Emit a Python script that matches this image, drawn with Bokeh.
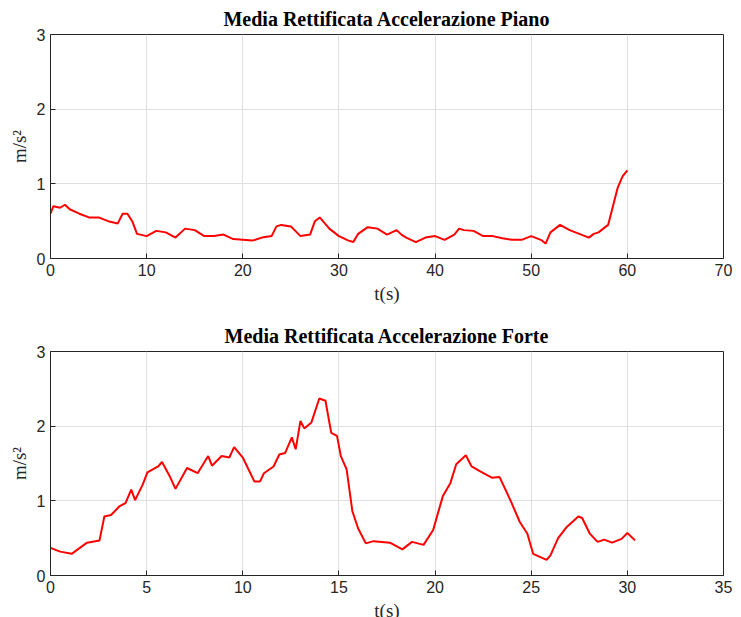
from bokeh.plotting import figure
from bokeh.layouts import column
from bokeh.models import Range1d, FixedTicker
from bokeh.embed import file_html
from bokeh.resources import INLINE

# Media rettificata - piano (0..60 s)
t_piano = [0, 0.3, 1, 1.5, 2, 3, 4, 5, 6, 7, 7.5, 8, 8.5, 9, 10, 11, 12, 13, 14, 15,
           16, 17, 18, 19, 20, 21, 22, 23, 23.5, 24, 25, 26, 27, 27.5, 28, 29, 30, 31,
           31.5, 32, 33, 34, 35, 36, 36.5, 37, 38, 39, 40, 41, 42, 42.5, 43, 44, 45, 46,
           47, 48, 49, 50, 51, 51.5, 52, 53, 54, 55, 56, 56.5, 57, 58, 58.5, 59, 59.5, 60]
a_piano = [0.6, 0.7, 0.68, 0.72, 0.66, 0.6, 0.55, 0.55, 0.5, 0.47, 0.6, 0.6, 0.5, 0.33,
           0.3, 0.37, 0.35, 0.28, 0.4, 0.38, 0.3, 0.3, 0.32, 0.26, 0.25, 0.24, 0.28, 0.3,
           0.43, 0.45, 0.43, 0.3, 0.32, 0.5, 0.55, 0.4, 0.3, 0.24, 0.22, 0.33, 0.42, 0.4,
           0.32, 0.38, 0.32, 0.28, 0.22, 0.28, 0.3, 0.25, 0.32, 0.4, 0.38, 0.37, 0.3, 0.3,
           0.27, 0.25, 0.25, 0.3, 0.25, 0.2, 0.35, 0.45, 0.38, 0.33, 0.28, 0.33, 0.35,
           0.45, 0.7, 0.95, 1.1, 1.18]

# Media rettificata - forte (0..30.4 s)
t_forte = [0, 0.5, 1.1, 1.9, 2.55, 2.8, 3.15, 3.6, 3.9, 4.2, 4.4, 4.8, 5.04, 5.6, 5.8,
           6.2, 6.5, 7.1, 7.65, 8.2, 8.4, 8.9, 9.3, 9.55, 10.0, 10.6, 10.9, 11.1, 11.6,
           11.9, 12.2, 12.55, 12.75, 13.0, 13.2, 13.57, 13.98, 14.3, 14.6, 14.9, 15.1,
           15.4, 15.7, 16.0, 16.4, 16.8, 17.65, 18.3, 18.8, 19.4, 19.9, 20.4, 20.8, 21.1,
           21.6, 21.9, 22.3, 22.95, 23.35, 23.95, 24.4, 24.8, 25.1, 25.8, 26.0, 26.4,
           26.85, 27.45, 27.65, 28.05, 28.45, 28.8, 29.2, 29.7, 30.0, 30.4]
a_forte = [0.37, 0.32, 0.29, 0.44, 0.47, 0.79, 0.81, 0.93, 0.97, 1.15, 1.01, 1.22, 1.38,
           1.46, 1.52, 1.33, 1.16, 1.44, 1.37, 1.6, 1.47, 1.6, 1.58, 1.72, 1.58, 1.26,
           1.26, 1.37, 1.46, 1.62, 1.64, 1.85, 1.69, 2.07, 1.97, 2.05, 2.37, 2.34, 1.91,
           1.87, 1.6, 1.42, 0.86, 0.63, 0.43, 0.46, 0.44, 0.35, 0.45, 0.41, 0.61, 1.06,
           1.24, 1.49, 1.61, 1.46, 1.40, 1.31, 1.32, 0.99, 0.72, 0.56, 0.29, 0.21, 0.27,
           0.5, 0.65, 0.79, 0.77, 0.56, 0.45, 0.48, 0.44, 0.49, 0.57, 0.47]


def make_plot(title, t, a, xmax, xticks, top, bottom):
    p = figure(title=title, output_backend="svg", toolbar_location=None,
               frame_width=673, frame_height=224,
               x_range=Range1d(0, xmax), y_range=Range1d(0, 3),
               x_axis_label="t(s)", y_axis_label="m/s²")
    p.min_border_left = 50
    p.min_border_right = 10
    p.min_border_top = top
    p.min_border_bottom = bottom
    p.title.align = "center"
    p.title.text_font = "Liberation Serif"
    p.title.text_font_size = "20px"
    p.title.text_font_style = "bold"
    p.title.text_color = "black"
    p.title.offset = -2
    p.xaxis.ticker = FixedTicker(ticks=xticks)
    p.yaxis.ticker = FixedTicker(ticks=[0, 1, 2, 3])
    for ax in (p.xaxis, p.yaxis):
        ax.axis_label_text_font = "Liberation Serif"
        ax.axis_label_text_font_size = "19px"
        ax.axis_label_text_font_style = "normal"
        ax.axis_label_text_color = "#262626"
        ax.major_label_text_font = "Liberation Sans"
        ax.major_label_text_font_size = "16px"
        ax.major_label_text_color = "#262626"
        ax.axis_line_color = "#262626"
        ax.major_tick_line_color = "#262626"
        ax.major_tick_in = 5
        ax.major_tick_out = 0
        ax.minor_tick_line_color = None
        ax.axis_label_standoff = 4
    p.grid.grid_line_color = "#dfdfdf"
    p.outline_line_color = "#262626"
    p.line(t, a, line_color="red", line_width=2)
    return p


p1 = make_plot("Media Rettificata Accelerazione Piano", t_piano, a_piano, 70,
               list(range(0, 71, 10)), 10, 59)
p2 = make_plot("Media Rettificata Accelerazione Forte", t_forte, a_forte, 35,
               list(range(0, 36, 5)), 22, 48)
p = column(p1, p2, spacing=0)

open("out.html", "w").write(file_html(p, INLINE))
